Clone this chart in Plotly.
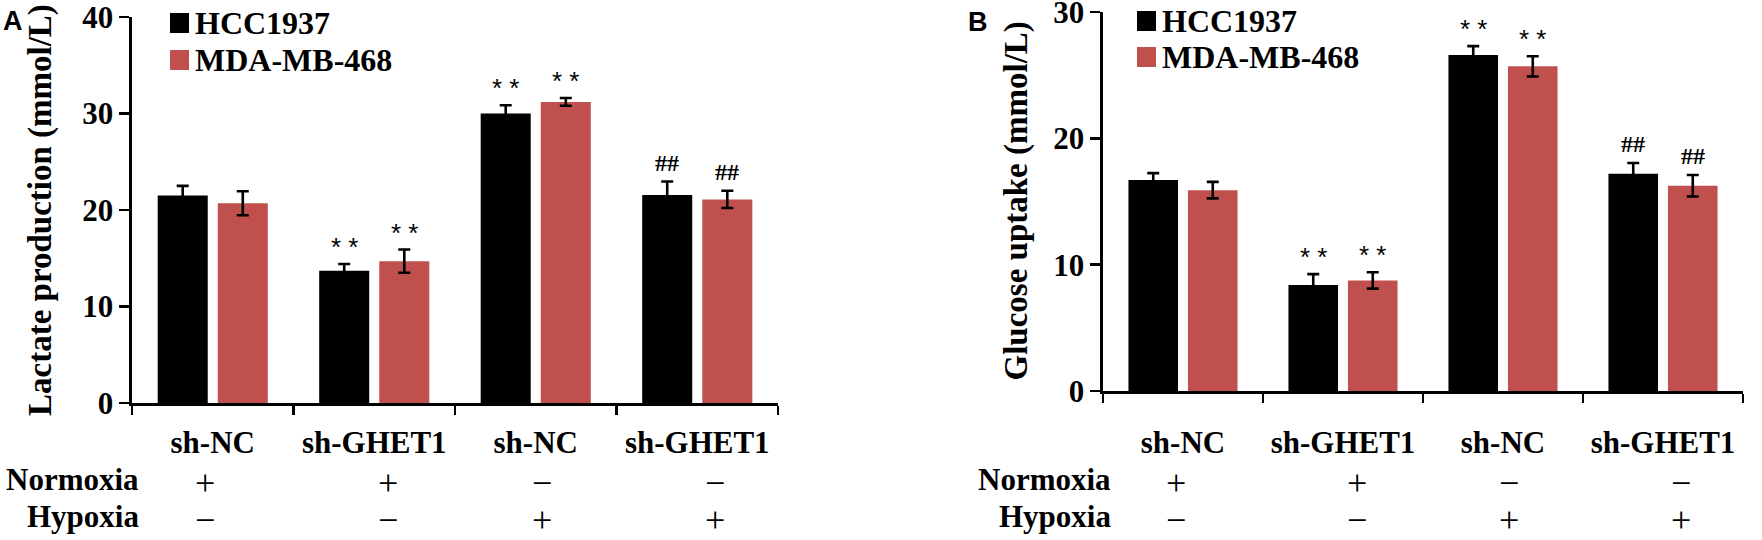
import plotly.graph_objects as go

W, H = 1762, 540

# ---------------- data ----------------
groups = ["sh-NC", "sh-GHET1", "sh-NC", "sh-GHET1"]
group_pos = [0.5, 1.5, 2.5, 3.5]
group_edges = [0, 1, 2, 3, 4]
normoxia = ["+", "+", "\u2212", "\u2212"]
hypoxia = ["\u2212", "\u2212", "+", "+"]
series_names = ["HCC1937", "MDA-MB-468"]

lactate_hcc = [21.5, 13.7, 30.0, 21.55]
lactate_hcc_err = [1.0, 0.7, 0.85, 1.4]
lactate_mda = [20.7, 14.7, 31.2, 21.1]
lactate_mda_err = [1.25, 1.2, 0.4, 0.9]

glucose_hcc = [16.7, 8.4, 26.6, 17.2]
glucose_hcc_err = [0.55, 0.85, 0.7, 0.85]
glucose_mda = [15.9, 8.75, 25.7, 16.25]
glucose_mda_err = [0.65, 0.65, 0.8, 0.85]

sig_marks = ["", "* *", "* *", "##"]

# ---------------- style ----------------
BLACK = "#000000"
RED = "#C0504D"
SERIF = "Liberation Serif"
SANS = "Liberation Sans"
BARGAP = 0.256
BARGROUPGAP = 0.167
slot = (1 - BARGAP) / 2
bar_off = [-slot / 2, slot / 2]
pm_shift = [-0.045, 0.085, 0.04, 0.11]


def px_x(v):
    return v / W


def px_y(v):
    return 1 - v / H


panels = [
    dict(xa="x", ya="y", xdom=[132, 778], ydom=[403, 17], yr=[0, 40],
         vals=[(lactate_hcc, lactate_hcc_err), (lactate_mda, lactate_mda_err)],
         title="Lactate production (mmol/L)", title_x=41, letter="A", letter_x=1, letter_y=21,
         leg_x=170, leg_y=[23, 60], row_x=141, row_y=[479, 516], standoff=10),
    dict(xa="x2", ya="y2", xdom=[1103, 1743], ydom=[391, 12], yr=[0, 30],
         vals=[(glucose_hcc, glucose_hcc_err), (glucose_mda, glucose_mda_err)],
         title="Glucose uptake (mmol/L)", title_x=1016, letter="B", letter_x=966, letter_y=22,
         leg_x=1137, leg_y=[21, 57], row_x=1113, row_y=[479, 516], standoff=22),
]

fig = go.Figure()
annotations = []
shapes = []
colors = [BLACK, RED]

for p in panels:
    for si, (vals, errs) in enumerate(p["vals"]):
        fig.add_trace(go.Bar(
            x=group_pos, y=vals, name=series_names[si],
            marker=dict(color=colors[si], line=dict(width=0)),
            error_y=dict(type="data", array=errs, visible=True, color=BLACK,
                         thickness=2.6, width=6),
            xaxis=p["xa"], yaxis=p["ya"], showlegend=False,
        ))
        for gi, mark in enumerate(sig_marks):
            if not mark:
                continue
            annotations.append(dict(
                x=group_pos[gi] + bar_off[si], y=vals[gi] + errs[gi],
                xref=p["xa"], yref=p["ya"], text=mark, showarrow=False,
                xanchor="center", yanchor="bottom",
                yshift=4 if mark == "##" else 0,
                font=dict(family=SERIF if mark == "##" else SANS, size=24 if mark == "##" else 26,
                          color=BLACK, weight="bold" if mark == "##" else "normal"),
            ))
    # y-axis title
    annotations.append(dict(
        x=px_x(p["title_x"]), y=px_y((p["ydom"][0] + p["ydom"][1]) / 2),
        xref="paper", yref="paper", text=p["title"], textangle=-90,
        showarrow=False, xanchor="center", yanchor="middle",
        font=dict(family=SERIF, size=33, color=BLACK, weight="bold"),
    ))
    # panel letter
    annotations.append(dict(
        x=px_x(p["letter_x"]), y=px_y(p["letter_y"]), xref="paper", yref="paper",
        text=p["letter"], showarrow=False, xanchor="left", yanchor="middle",
        font=dict(family=SANS, size=27, color=BLACK, weight="bold"),
    ))
    # legend
    for si, name in enumerate(series_names):
        cy = p["leg_y"][si]
        shapes.append(dict(
            type="rect", xref="paper", yref="paper",
            x0=px_x(p["leg_x"]), x1=px_x(p["leg_x"] + 19),
            y0=px_y(cy + 10), y1=px_y(cy - 10),
            fillcolor=colors[si], line=dict(width=0),
        ))
        annotations.append(dict(
            x=px_x(p["leg_x"] + 23), y=px_y(cy), xref="paper", yref="paper",
            text=name, showarrow=False, xanchor="left", yanchor="middle",
            font=dict(family=SERIF, size=32, color=BLACK, weight="bold"),
        ))
    # condition rows
    for ri, (rname, signs) in enumerate([("Normoxia", normoxia), ("Hypoxia", hypoxia)]):
        annotations.append(dict(
            x=px_x(p["row_x"]), y=px_y(p["row_y"][ri]), xref="paper", yref="paper",
            text=rname, showarrow=False, xanchor="right", yanchor="middle",
            font=dict(family=SERIF, size=31, color=BLACK, weight="bold"),
        ))
        for gi, s in enumerate(signs):
            annotations.append(dict(
                x=group_pos[gi] + pm_shift[gi], y=px_y(p["row_y"][ri] + 4),
                xref=p["xa"], yref="paper", text=s, showarrow=False,
                xanchor="center", yanchor="middle",
                font=dict(family=SERIF, size=36, color=BLACK),
            ))

axis_common = dict(showline=True, linecolor=BLACK, linewidth=2.6, showgrid=False,
                   zeroline=False, fixedrange=True, automargin=False)

layout_axes = {}
for i, p in enumerate(panels):
    sfx = "" if i == 0 else str(i + 1)
    layout_axes["xaxis" + sfx] = dict(
        axis_common, domain=[px_x(p["xdom"][0]), px_x(p["xdom"][1])], range=[0, 4],
        anchor="y" + sfx, tickmode="array", tickvals=group_pos, ticktext=groups,
        ticks="", ticklabelstandoff=p["standoff"],
        tickfont=dict(family=SERIF, size=31, color=BLACK, weight="bold"),
        minor=dict(tickmode="array", tickvals=group_edges, ticks="outside", ticklen=9,
                   tickwidth=2.6, tickcolor=BLACK, showgrid=False),
    )
    layout_axes["yaxis" + sfx] = dict(
        axis_common, domain=[px_y(p["ydom"][0]), px_y(p["ydom"][1])], range=p["yr"],
        anchor="x" + sfx, tickmode="linear", tick0=0, dtick=10,
        ticks="outside", ticklen=10, tickwidth=2.6, tickcolor=BLACK,
        ticklabeloverflow="allow",
        tickfont=dict(family=SERIF, size=31, color=BLACK, weight="bold"),
    )

fig.update_layout(
    width=W, height=H, margin=dict(l=0, r=0, t=0, b=0, autoexpand=False),
    paper_bgcolor="white", plot_bgcolor="white",
    barmode="group", bargap=BARGAP, bargroupgap=BARGROUPGAP,
    showlegend=False, annotations=annotations, shapes=shapes,
    hovermode=False,
    **layout_axes,
)

fig.write_html(
    "out.html",
    config={"displayModeBar": False, "staticPlot": True},
    post_script="document.body.style.margin='0';document.body.style.overflow='hidden';",
)
